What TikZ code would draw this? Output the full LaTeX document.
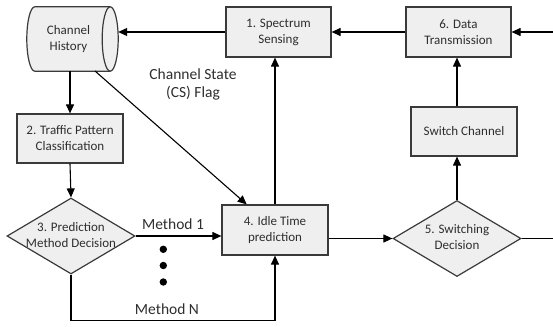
\documentclass[tikz,border=0pt]{standalone}
\usepackage{fontspec}
\setmainfont{Carlito}
\usetikzlibrary{arrows.meta,shapes.geometric,calc,backgrounds}
\definecolor{boxfill}{HTML}{EFEFEF}
\definecolor{boxline}{HTML}{3A3A3A}
\definecolor{inkgray}{HTML}{2E2E2E}
% two centred lines that do not widen the surrounding shape
\newcommand\twolines[2]{\makebox[0pt]{\begin{tabular}{@{}c@{}}#1\\#2\end{tabular}}}
\begin{document}
\begin{tikzpicture}[x=1pt,y=-1pt,
  every node/.style={text=inkgray},
  stepbox/.style={draw=boxline,fill=boxfill,line width=1.2pt,rectangle,inner sep=0pt,
    align=center,font=\fontsize{13}{16}\selectfont},
  decide/.style={draw=boxline,fill=boxfill,line width=1.2pt,diamond,inner sep=0pt,
    minimum width=128pt,minimum height=76pt,font=\fontsize{13}{16}\selectfont},
  storetext/.style={rectangle,inner sep=0pt,align=center,font=\fontsize{13}{16}\selectfont},
  storeline/.style={draw=boxline,fill=boxfill,line width=1.2pt},
  flow/.style={line width=1.1pt,draw=black,-{Triangle[length=9pt,width=8pt]}},
  tag/.style={font=\fontsize{15.5}{18}\selectfont,align=center},
  dot/.style={circle,fill=black,inner sep=0pt,minimum size=7.4pt}
]
\useasboundingbox (0,0) rectangle (553,326);

% channel history store: the node spans the body up to the centre of the rim ellipse
\node[storetext,minimum width=83pt,minimum height=64pt] (hist) at (68.5,39) {Channel\\History};
\begin{scope}[on background layer]
  \path[storeline]
    ($(hist.north west)+(8,0)$) -- (hist.north east)
    .. controls ($(hist.north east)+(4.42,0)$) and ($(hist.east)+(8,-17.66)$) .. ($(hist.east)+(8,0)$)
    .. controls ($(hist.east)+(8,17.66)$) and ($(hist.south east)+(4.42,0)$) .. (hist.south east)
    -- ($(hist.south west)+(8,0)$)
    .. controls ($(hist.south west)+(3.58,0)$) and ($(hist.west)+(0,17.66)$) .. (hist.west)
    .. controls ($(hist.west)+(0,-17.66)$) and ($(hist.north west)+(3.58,0)$) .. cycle;
  \draw[draw=boxline,line width=1.2pt] (hist.north east)
    .. controls ($(hist.north east)+(-4.42,0)$) and ($(hist.east)+(-8,-17.66)$) .. ($(hist.east)+(-8,0)$)
    .. controls ($(hist.east)+(-8,17.66)$) and ($(hist.south east)+(-4.42,0)$) .. (hist.south east);
\end{scope}

% processing steps
\node[stepbox,minimum width=105pt,minimum height=50pt] (s1) at (278.5,32) {1. Spectrum\\Sensing};
\node[stepbox,minimum width=105pt,minimum height=50pt] (s6) at (458.5,32) {6. Data\\Transmission};
\node[stepbox,minimum width=106pt,minimum height=49pt] (sw) at (464,131.5) {Switch Channel};
\node[stepbox,minimum width=106pt,minimum height=49pt] (s2) at (70,138.5) {2. Traffic Pattern\\Classification};
\node[stepbox,minimum width=106pt,minimum height=50pt] (s4) at (275,230) {4. Idle Time\\prediction};

% decisions
\node[decide] (d3) at (71,236) {\twolines{3. Prediction}{Method Decision}};
\node[decide] (d5) at (457,238.5) {\twolines{5. Switching}{Decision}};

% labels
\node[tag] (cs) at (193,84) {Channel State\\(CS) Flag};
\node[tag] (m1) at (173,224) {Method 1};
\node[tag] (mn) at (167,309) {Method N};
\node[dot] (e1) at (163.3,249.3) {};
\node[dot] (e2) at (163.3,265.5) {};
\node[dot] (e3) at (163.3,282) {};

% helper points
\coordinate (tapA) at (95,71);
\coordinate (tapB) at ($(s4.north west)!0.236!(s4.north east)$);
\coordinate (nbase) at (275,320.5);
\coordinate (rim) at (553.4,238.5);

% connectors
\draw[flow] (s1.west) -- ($(s1.west -| hist.east)+(8,0)$);
\draw[flow] (s2.north |- hist.south) -- (s2.north);
\draw[flow] (s2.south) -- (d3.north);
\draw[flow] (d3.east) -- (d3.east -| s4.west);
\draw[flow] (d3.south) |- (nbase) -- (s4.south);
\draw[flow] (tapA) -- (tapB);
\draw[flow] (s4.north) -- (s4.north |- s1.south);
\draw[flow] (s4.east |- d5.west) -- (d5.west);
\draw[flow] (d5.north) -- (d5.north |- sw.south);
\draw[flow] (sw.north -| d5.north) -- (s6.south -| d5.north);
\draw[flow] (d5.east) -- (rim) |- (s6.east);
\draw[flow] (s6.west) -- (s1.east);
\end{tikzpicture}
\end{document}
